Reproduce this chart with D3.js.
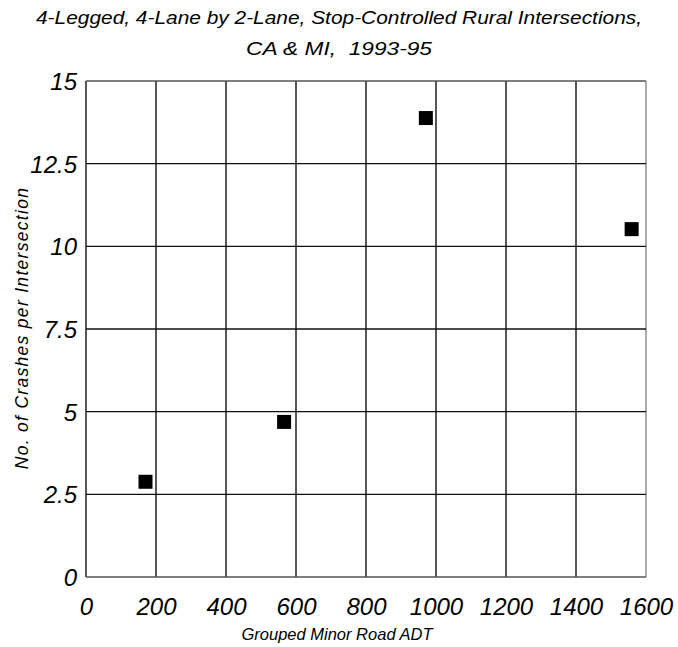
<!DOCTYPE html>
<html>
<head>
<meta charset="utf-8">
<script src="https://cdn.jsdelivr.net/npm/d3@7"></script>
<style>
  body { margin: 0; background: #fff; }
  text { font-family: "Liberation Sans", Arial, sans-serif; font-style: italic; fill: #000; }
</style>
</head>
<body>
<div id="chart"></div>
<script>
// data
var adt = [170, 566, 971, 1559];
var crashes = [2.88, 4.69, 13.88, 10.52];
var xTicks = [0, 200, 400, 600, 800, 1000, 1200, 1400, 1600];
var yTicks = [0, 2.5, 5, 7.5, 10, 12.5, 15];

var width = 678, height = 647;
var margin = {top: 81, right: 32, bottom: 70, left: 86};

var svg = d3.select("#chart").append("svg")
  .attr("width", width)
  .attr("height", height);

var x = d3.scaleLinear().domain([0, 1600]).range([margin.left, width - margin.right]);
var y = d3.scaleLinear().domain([0, 15]).range([height - margin.bottom, margin.top]);

// grid
svg.append("g").selectAll("line.v")
  .data(xTicks)
  .enter().append("line")
  .attr("x1", function(d) { return x(d); })
  .attr("x2", function(d) { return x(d); })
  .attr("y1", y(0))
  .attr("y2", y(15))
  .attr("stroke", function(d) { return (d == 1600) ? "#888" : "#111"; })
  .attr("stroke-width", 1.4);

svg.append("g").selectAll("line.h")
  .data(yTicks)
  .enter().append("line")
  .attr("x1", x(0))
  .attr("x2", x(1600))
  .attr("y1", function(d) { return y(d); })
  .attr("y2", function(d) { return y(d); })
  .attr("stroke", function(d) { return (d == 0 || d == 15) ? "#555" : "#111"; })
  .attr("stroke-width", 1.4);

// axes (labels only)
var xAxis = d3.axisBottom(x).tickValues(xTicks).tickSize(0).tickPadding(0)
  .tickFormat(function(d) { return d; });
var yAxis = d3.axisLeft(y).tickValues(yTicks).tickSize(0).tickPadding(0)
  .tickFormat(function(d) { return d; });

var gx = svg.append("g")
  .attr("transform", "translate(0," + (y(0) + 21) + ")")
  .call(xAxis);
gx.select(".domain").remove();
gx.selectAll("text")
  .attr("dy", "0.71em")
  .style("font-size", "24px")
  .style("font-family", "Liberation Sans, Arial, sans-serif");

var gy = svg.append("g")
  .attr("transform", "translate(" + (x(0) - 9) + ",0)")
  .call(yAxis);
gy.select(".domain").remove();
gy.selectAll("text")
  .attr("dy", "0.35em")
  .style("font-size", "24px")
  .style("font-family", "Liberation Sans, Arial, sans-serif");

// points
svg.append("g").selectAll("rect")
  .data(adt)
  .enter().append("rect")
  .attr("x", function(d) { return x(d) - 7; })
  .attr("y", function(d, i) { return y(crashes[i]) - 7; })
  .attr("width", 14)
  .attr("height", 14)
  .attr("fill", "#000");

// titles
svg.append("text")
  .attr("x", 339).attr("y", 24)
  .attr("text-anchor", "middle")
  .attr("textLength", 606)
  .attr("lengthAdjust", "spacingAndGlyphs")
  .style("font-size", "18.5px")
  .text("4-Legged, 4-Lane by 2-Lane, Stop-Controlled Rural Intersections,");

svg.append("text")
  .attr("x", 339).attr("y", 55)
  .attr("text-anchor", "middle")
  .attr("textLength", 186)
  .attr("lengthAdjust", "spacingAndGlyphs")
  .style("font-size", "18.5px")
  .style("white-space", "pre")
  .text("CA & MI,  1993-95");

svg.append("text")
  .attr("x", 337).attr("y", 640)
  .attr("text-anchor", "middle")
  .style("font-size", "16.5px")
  .text("Grouped Minor Road ADT");

svg.append("text")
  .attr("transform", "translate(28," + 328 + ") rotate(-90)")
  .attr("text-anchor", "middle")
  .style("font-size", "17.5px")
  .style("letter-spacing", "1.3px")
  .text("No. of Crashes per Intersection");
</script>
</body>
</html>
